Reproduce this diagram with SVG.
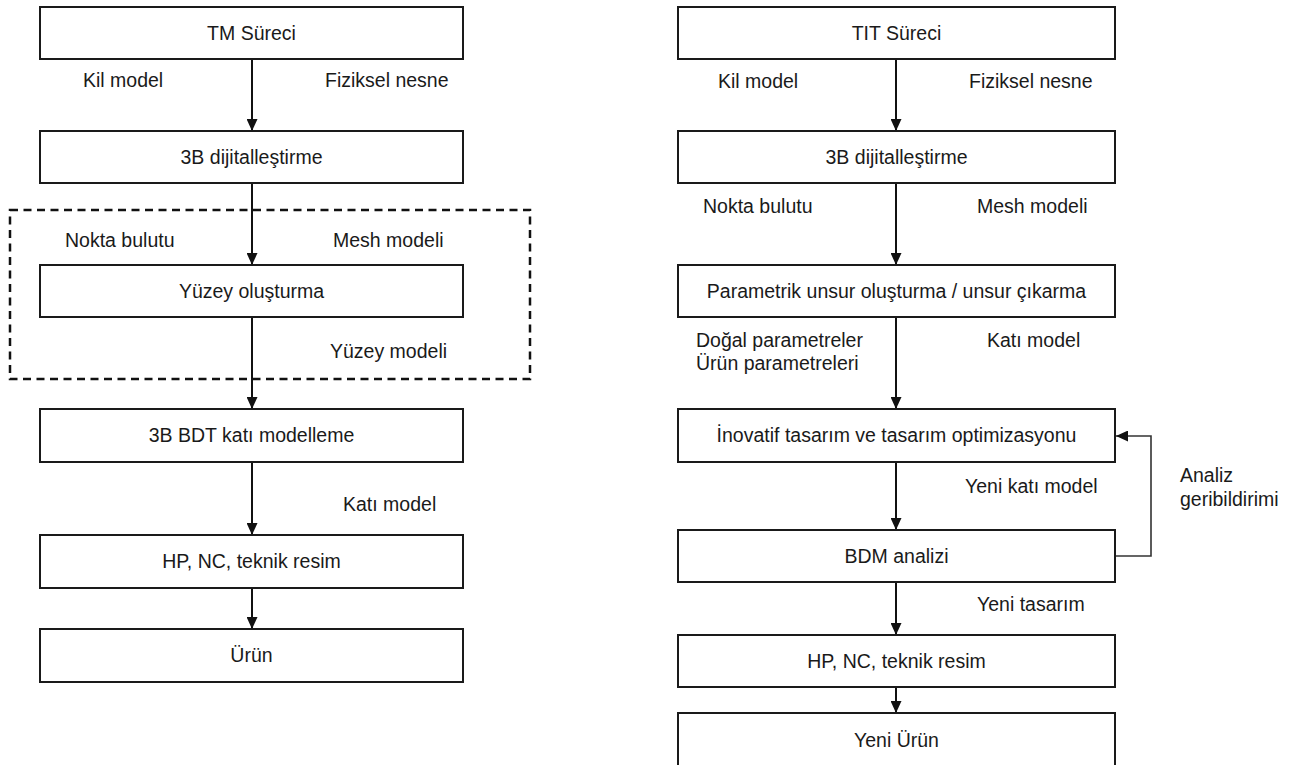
<svg xmlns="http://www.w3.org/2000/svg" width="1297" height="765" viewBox="0 0 1297 765">
<defs>
<style>
.box{fill:#fff;stroke:#1a1a1a;stroke-width:2}
.t{font-family:"Liberation Sans",Arial,sans-serif;font-size:19.5px;fill:#1a1a1a}
.c{text-anchor:middle}
.ln{fill:none;stroke:#111;stroke-width:2}
.fb{fill:none;stroke:#333;stroke-width:1.6}
.dash{fill:none;stroke:#111;stroke-width:2.5;stroke-dasharray:8,5.5}
</style>
<marker id="ah" viewBox="0 0 12 11" refX="12" refY="5.5" markerWidth="12" markerHeight="11" markerUnits="userSpaceOnUse" orient="auto">
<path d="M0,0 L12,5.5 L0,11 z" fill="#111"/>
</marker>
</defs>
<rect width="1297" height="765" fill="#fff"/>

<g id="connectors">
<line class="ln" x1="252" y1="59" x2="252" y2="131" marker-end="url(#ah)"/>
<line class="ln" x1="252" y1="183" x2="252" y2="265" marker-end="url(#ah)"/>
<line class="ln" x1="252" y1="317" x2="252" y2="409" marker-end="url(#ah)"/>
<line class="ln" x1="252" y1="462" x2="252" y2="535" marker-end="url(#ah)"/>
<line class="ln" x1="252" y1="588" x2="252" y2="629" marker-end="url(#ah)"/>
<line class="ln" x1="896" y1="59" x2="896" y2="131" marker-end="url(#ah)"/>
<line class="ln" x1="896" y1="183" x2="896" y2="265" marker-end="url(#ah)"/>
<line class="ln" x1="896" y1="317" x2="896" y2="409" marker-end="url(#ah)"/>
<line class="ln" x1="896" y1="462" x2="896" y2="530" marker-end="url(#ah)"/>
<line class="ln" x1="896" y1="582" x2="896" y2="635" marker-end="url(#ah)"/>
<line class="ln" x1="896" y1="687" x2="896" y2="713" marker-end="url(#ah)"/>
<polyline class="fb" points="1115,556 1151,556 1151,436 1116,436" marker-end="url(#ah)"/>
</g>

<rect id="dashed-region" class="dash" x="10" y="210" width="520" height="169"/>

<g id="l1"><rect class="box" x="40" y="7" width="423" height="52"/><text class="t c" x="251.5" y="40">TM Süreci</text></g>
<g id="l2"><rect class="box" x="40" y="131" width="423" height="52"/><text class="t c" x="251.5" y="164">3B dijitalleştirme</text></g>
<g id="l3"><rect class="box" x="40" y="265" width="423" height="52"/><text class="t c" x="251.5" y="298">Yüzey oluşturma</text></g>
<g id="l4"><rect class="box" x="40" y="409" width="423" height="53"/><text class="t c" x="251.5" y="442">3B BDT katı modelleme</text></g>
<g id="l5"><rect class="box" x="40" y="535" width="423" height="53"/><text class="t c" x="251.5" y="568">HP, NC, teknik resim</text></g>
<g id="l6"><rect class="box" x="40" y="629" width="423" height="53"/><text class="t c" x="251.5" y="662">Ürün</text></g>

<g id="r1"><rect class="box" x="678" y="7" width="437" height="52"/><text class="t c" x="896.5" y="40">TIT Süreci</text></g>
<g id="r2"><rect class="box" x="678" y="131" width="437" height="52"/><text class="t c" x="896.5" y="164">3B dijitalleştirme</text></g>
<g id="r3"><rect class="box" x="678" y="265" width="437" height="52"/><text class="t c" x="896.5" y="298">Parametrik unsur oluşturma / unsur çıkarma</text></g>
<g id="r4"><rect class="box" x="678" y="409" width="437" height="53"/><text class="t c" x="896.5" y="442">İnovatif tasarım ve tasarım optimizasyonu</text></g>
<g id="r5"><rect class="box" x="678" y="530" width="437" height="52"/><text class="t c" x="896.5" y="563">BDM analizi</text></g>
<g id="r6"><rect class="box" x="678" y="635" width="437" height="52"/><text class="t c" x="896.5" y="668">HP, NC, teknik resim</text></g>
<g id="r7"><rect class="box" x="678" y="713" width="437" height="62"/><text class="t c" x="896.5" y="747">Yeni Ürün</text></g>

<g id="labels">
<text class="t" x="83" y="87">Kil model</text>
<text class="t" x="325" y="87">Fiziksel nesne</text>
<text class="t" x="65" y="247">Nokta bulutu</text>
<text class="t" x="333" y="247">Mesh modeli</text>
<text class="t" x="330" y="358">Yüzey modeli</text>
<text class="t" x="343" y="511">Katı model</text>
<text class="t" x="718" y="88">Kil model</text>
<text class="t" x="969" y="88">Fiziksel nesne</text>
<text class="t" x="703" y="213">Nokta bulutu</text>
<text class="t" x="977" y="213">Mesh modeli</text>
<text class="t" x="696" y="347">Doğal parametreler</text>
<text class="t" x="696" y="370">Ürün parametreleri</text>
<text class="t" x="987" y="347">Katı model</text>
<text class="t" x="965" y="493">Yeni katı model</text>
<text class="t" x="977" y="611">Yeni tasarım</text>
<text class="t" x="1180" y="482">Analiz</text>
<text class="t" x="1180" y="506">geribildirimi</text>
</g>
</svg>
